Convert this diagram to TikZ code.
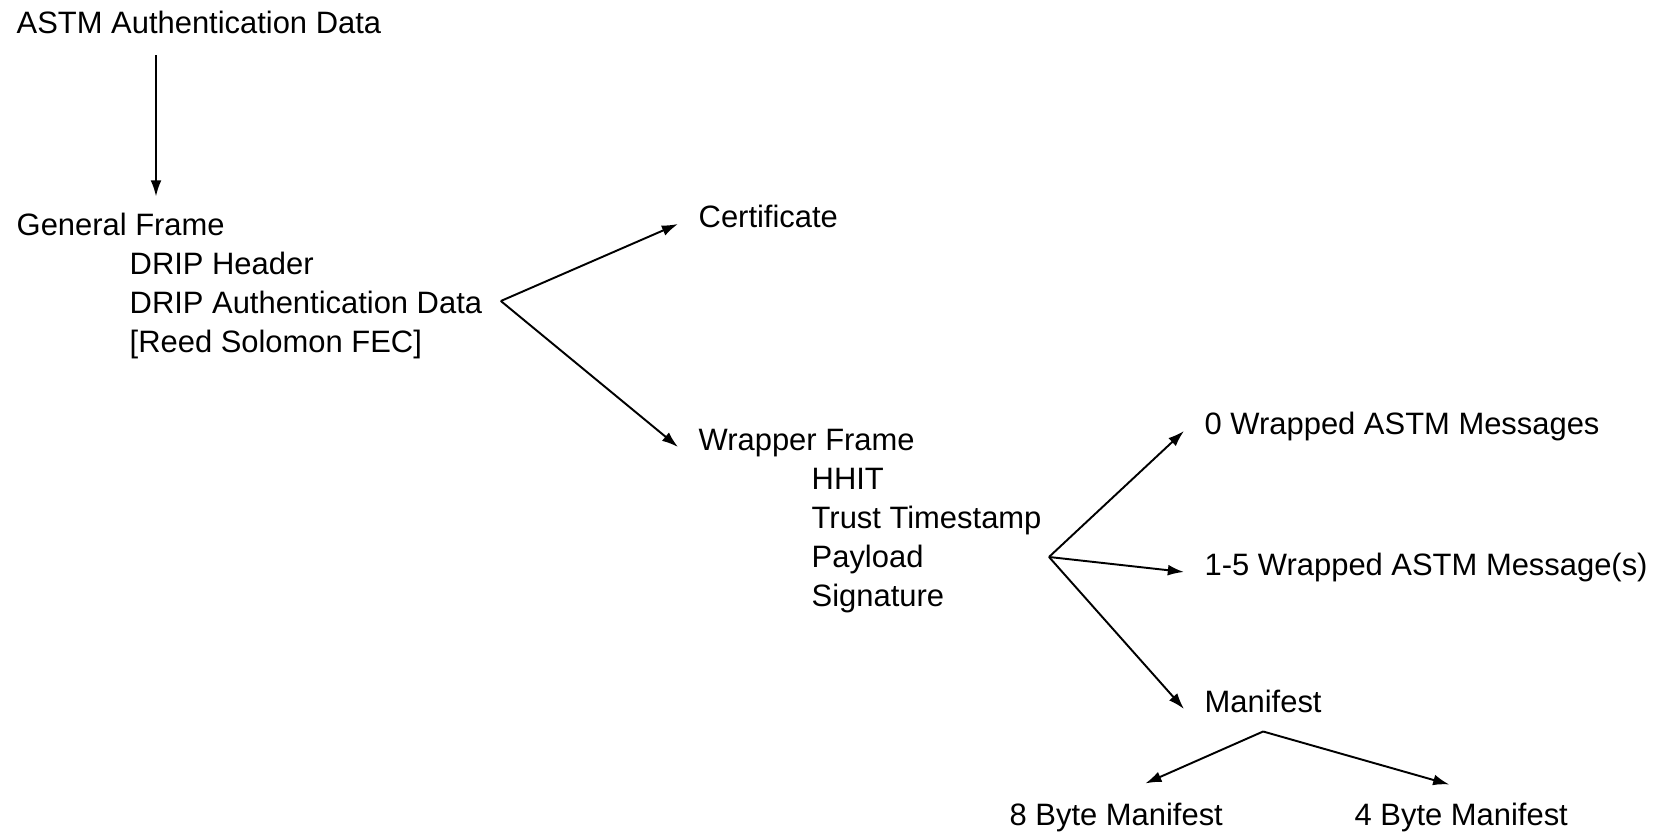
\documentclass[tikz,border=0pt]{standalone}
\usepackage{fontspec}
\setmainfont{Liberation Sans}
\usepackage{tikz}
\usetikzlibrary{arrows.meta, positioning}

\begin{document}
\begin{tikzpicture}[
    node distance=1.7pt and 1.13cm,
    every node/.style={font=\fontsize{8.8}{10.6}\selectfont},
    item/.style={inner sep=0pt, anchor=west, text height=8pt, text depth=1pt},
    arrow/.style={-{Latex[length=4.6pt, width=3.1pt]}, line width=0.55pt}
  ]

  \useasboundingbox (0,0) rectangle (16.56,8.32);

  \node[item] (astm) at (0.16,8.11) {ASTM Authentication Data};

  % general frame with its fields
  \node[item] (gen) at (0.16,6.09) {General Frame};
  \node[item, below right=1.7pt and 1.13cm of gen.south west] (hdr) {DRIP Header};
  \node[item, below=of hdr.south west, anchor=north west] (dauth) {DRIP Authentication Data};
  \node[item, below=of dauth.south west, anchor=north west] (fec) {[Reed Solomon FEC]};

  \node[item] (cert) at (6.98,6.17) {Certificate};

  % wrapper frame with its fields
  \node[item] (wrap) at (6.98,3.94) {Wrapper Frame};
  \node[item, below right=1.7pt and 1.13cm of wrap.south west] (hhit) {HHIT};
  \node[item, below=of hhit.south west, anchor=north west] (trust) {Trust Timestamp};
  \node[item, below=of trust.south west, anchor=north west] (payload) {Payload};
  \node[item, below=of payload.south west, anchor=north west] (sig) {Signature};

  \node[item] (zero) at (12.04,4.10) {0 Wrapped ASTM Messages};
  \node[item] (some) at (12.04,2.69) {1-5 Wrapped ASTM Message(s)};
  \node[item] (mani) at (12.04,1.32) {Manifest};

  \node[item] (b8) at (10.09,0.19) {8 Byte Manifest};
  \node[item] (b4) at (13.54,0.19) {4 Byte Manifest};

  % branch points
  \coordinate (gfork) at ([xshift=0.18cm]dauth.east);
  \coordinate (wfork) at (10.49,2.75);
  \coordinate (mfork) at ([yshift=-0.15cm]mani.south);

  \draw[arrow, shorten <=0.18cm, shorten >=0.1cm] ([xshift=1.4cm]astm.south west) -- ([xshift=1.4cm]gen.north west);

  \draw[arrow] (gfork) -- ([shift={(-0.2cm,-0.09cm)}]cert.west);
  \draw[arrow] (gfork) -- ([shift={(-0.2cm,-0.09cm)}]wrap.west);

  \draw[arrow] (wfork) -- ([shift={(-0.2cm,-0.09cm)}]zero.west);
  \draw[arrow] (wfork) -- ([shift={(-0.2cm,-0.09cm)}]some.west);
  \draw[arrow] (wfork) -- ([shift={(-0.2cm,-0.09cm)}]mani.west);

  \draw[arrow] (mfork) -- ([shift={(0.29cm,0.13cm)}]b8.north);
  \draw[arrow] (mfork) -- ([shift={(-0.12cm,0.12cm)}]b4.north);

\end{tikzpicture}
\end{document}
